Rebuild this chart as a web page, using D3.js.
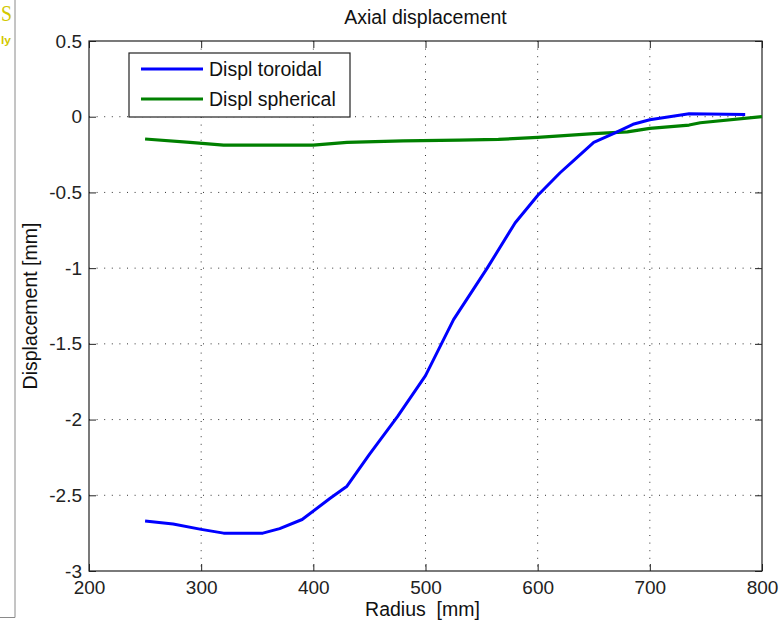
<!DOCTYPE html>
<html><head><meta charset="utf-8">
<script src="https://cdn.jsdelivr.net/npm/d3@7"></script>
<style>html,body{margin:0;padding:0;background:#fff;}svg{display:block;}</style>
</head><body>
<script>
// Data
const radiusToroidal = [250,275,300,320,355,370,390,415,430,450,475,500,525,555,580,600,620,632,650,668,685,700,735,785];
const displToroidal  = [-2.67,-2.69,-2.725,-2.75,-2.75,-2.72,-2.66,-2.52,-2.44,-2.23,-1.98,-1.71,-1.34,-1.00,-0.70,-0.52,-0.37,-0.29,-0.17,-0.11,-0.05,-0.02,0.02,0.015];
const radiusSpherical = [250,290,320,400,430,480,530,565,600,650,680,700,735,745,800];
const displSpherical  = [-0.147,-0.17,-0.187,-0.187,-0.17,-0.16,-0.155,-0.15,-0.136,-0.112,-0.10,-0.077,-0.055,-0.04,0.0];
const xTicks = [200,300,400,500,600,700,800];
const yTicks = [0.5,0,-0.5,-1,-1.5,-2,-2.5,-3];
const yTickLabels = ["0.5","0","-0.5","-1","-1.5","-2","-2.5","-3"];
const seriesNames = ["Displ toroidal","Displ spherical"];
const seriesColors = ["#0000ff","#008000"];

const W=782,H=628;
const L=89,R=762,T=41,B=571;
const font="'Liberation Sans', Arial, sans-serif";
const svg=d3.select("body").append("svg").attr("width",W).attr("height",H);

// left artifact (cropped neighbouring window)
svg.append("path").attr("d","M15,0 V617.5 H0").attr("fill","none").attr("stroke","#8a8a8a").attr("stroke-width",1);
svg.append("text").attr("x",1).attr("y",21).attr("font-family","'Liberation Serif', serif").attr("font-size",23)
  .attr("textLength",11).attr("lengthAdjust","spacingAndGlyphs").attr("fill","#d2c800").text("S");
svg.append("text").attr("x",1).attr("y",44).attr("font-family",font).attr("font-weight","bold").attr("font-size",11)
  .attr("textLength",10).attr("lengthAdjust","spacingAndGlyphs").attr("fill","#d2c800").text("ly");

const x=d3.scaleLinear().domain([200,800]).range([L,R]);
const y=d3.scaleLinear().domain([-3,0.5]).range([B,T]);

// grid
const g=svg.append("g");
xTicks.slice(1,-1).forEach(v=>{
  g.append("line").attr("x1",x(v)).attr("x2",x(v)).attr("y1",T).attr("y2",B)
   .attr("stroke","#333").attr("stroke-width",1).attr("stroke-dasharray","1,6.6");
});
yTicks.slice(1,-1).forEach(v=>{
  g.append("line").attr("x1",L).attr("x2",R).attr("y1",y(v)).attr("y2",y(v))
   .attr("stroke","#333").attr("stroke-width",1).attr("stroke-dasharray","1,6.6");
});

// axes with inward ticks
const axB=svg.append("g").attr("transform",`translate(0,${B})`).call(d3.axisBottom(x).tickValues(xTicks).tickSize(-7).tickPadding(10).tickFormat(d3.format("d")));
const axT=svg.append("g").attr("transform",`translate(0,${T})`).call(d3.axisTop(x).tickValues(xTicks).tickSize(-7).tickFormat(""));
const axL=svg.append("g").attr("transform",`translate(${L},0)`).call(d3.axisLeft(y).tickValues(yTicks).tickSize(-7).tickPadding(7).tickFormat((d,i)=>yTickLabels[i]));
const axR=svg.append("g").attr("transform",`translate(${R},0)`).call(d3.axisRight(y).tickValues(yTicks).tickSize(-7).tickFormat(""));
[axB,axT,axL,axR].forEach(a=>{
  a.select(".domain").remove();
  a.selectAll(".tick line").attr("stroke","#222");
  a.selectAll("text").attr("font-family",font).attr("font-size",19).attr("fill","#222");
});
axB.selectAll("text").attr("dy","0.71em");
svg.append("rect").attr("x",L).attr("y",T).attr("width",R-L).attr("height",B-T).attr("fill","none").attr("stroke","#222").attr("stroke-width",1.2);

// lines
const line=d3.line().x(d=>x(d[0])).y(d=>y(d[1]));
const series=[
  d3.zip(radiusToroidal,displToroidal),
  d3.zip(radiusSpherical,displSpherical)
];
svg.append("path").datum(series[1]).attr("d",line).attr("fill","none").attr("stroke",seriesColors[1]).attr("stroke-width",3.2).attr("stroke-linejoin","round");
svg.append("path").datum(series[0]).attr("d",line).attr("fill","none").attr("stroke",seriesColors[0]).attr("stroke-width",3).attr("stroke-linejoin","round");

// titles
svg.append("text").attr("x",(L+R)/2).attr("y",24).attr("text-anchor","middle").attr("font-family",font).attr("font-size",19.5).attr("fill","#111").text("Axial displacement");
svg.append("text").attr("x",(L+R)/2-3).attr("y",616).attr("text-anchor","middle").attr("font-family",font).attr("font-size",19.5).attr("fill","#111").style("white-space","pre").text("Radius  [mm]");
svg.append("text").attr("transform",`translate(37,${(T+B)/2}) rotate(-90)`).attr("text-anchor","middle").attr("font-family",font).attr("font-size",19.5).attr("fill","#111").text("Displacement [mm]");

// legend
const lg=svg.append("g");
lg.append("rect").attr("x",129).attr("y",53).attr("width",221).attr("height",64).attr("fill","#fff").attr("stroke","#222").attr("stroke-width",1.2);
seriesNames.forEach((n,i)=>{
  const yy=69+i*30;
  lg.append("line").attr("x1",141).attr("x2",203).attr("y1",yy).attr("y2",yy).attr("stroke",seriesColors[i]).attr("stroke-width",3);
  lg.append("text").attr("x",209).attr("y",yy+7).attr("font-family",font).attr("font-size",19.5).attr("fill","#111").text(n);
});
</script>
</body></html>
